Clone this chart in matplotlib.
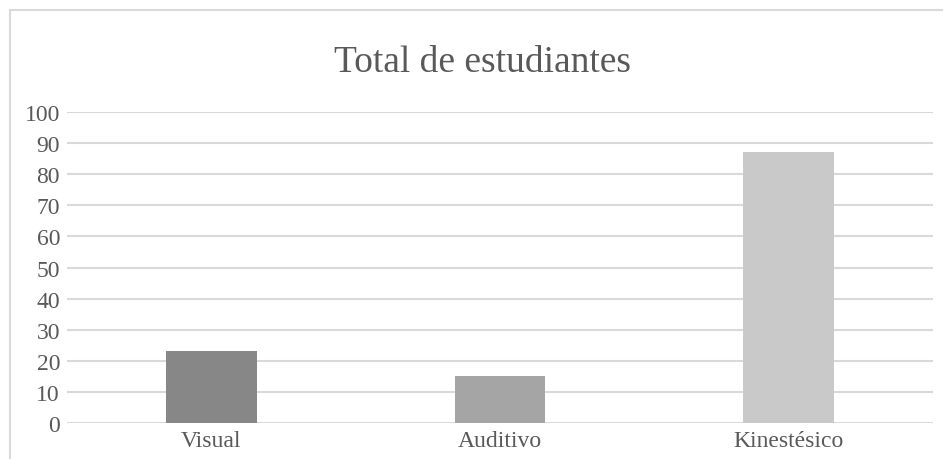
import matplotlib
matplotlib.use("Agg")
import matplotlib.pyplot as plt
from matplotlib.patches import Rectangle

categorias = ["Visual", "Auditivo", "Kinestésico"]
estudiantes = [23, 15, 87]
colores = ["#878787", "#a5a5a5", "#c9c9c9"]
marcas_y = [0, 10, 20, 30, 40, 50, 60, 70, 80, 90, 100]

plt.rcParams['font.family'] = ['Liberation Serif', 'DejaVu Serif']

fig = plt.figure(figsize=(9.43, 4.60), dpi=100)
ax = fig.add_axes([0.0710, 0.0783, 0.9184, 0.6760])

# borde del grafico (recortado a la derecha y abajo)
fig.patches.append(Rectangle((9.5 / 943, -0.05), 1.0, 1 - 10.5 / 460 + 0.05,
                             transform=fig.transFigure, fill=False,
                             edgecolor="#d9d9d9", linewidth=1.5))

x = range(len(categorias))
ax.bar(x, estudiantes, width=0.315, color=colores, zorder=3)

ax.set_xlim(-0.5, len(categorias) - 0.5)
ax.set_ylim(0, 100)
ax.set_yticks(marcas_y)
ax.set_xticks(list(x))
ax.set_xticklabels(categorias)
ax.grid(axis="y", color="#d9d9d9", linewidth=1.5, zorder=0)
ax.set_axisbelow(True)
for lado in ["top", "right", "left", "bottom"]:
    ax.spines[lado].set_visible(False)
ax.tick_params(axis="both", length=0, labelsize=17, labelcolor="#595959")
ax.tick_params(axis="y", pad=5)
ax.tick_params(axis="x", pad=5)

fig.text(0.512, 0.864, "Total de estudiantes", ha="center", va="center",
         fontsize=27, color="#595959")

fig.savefig("out.png", dpi=100)
